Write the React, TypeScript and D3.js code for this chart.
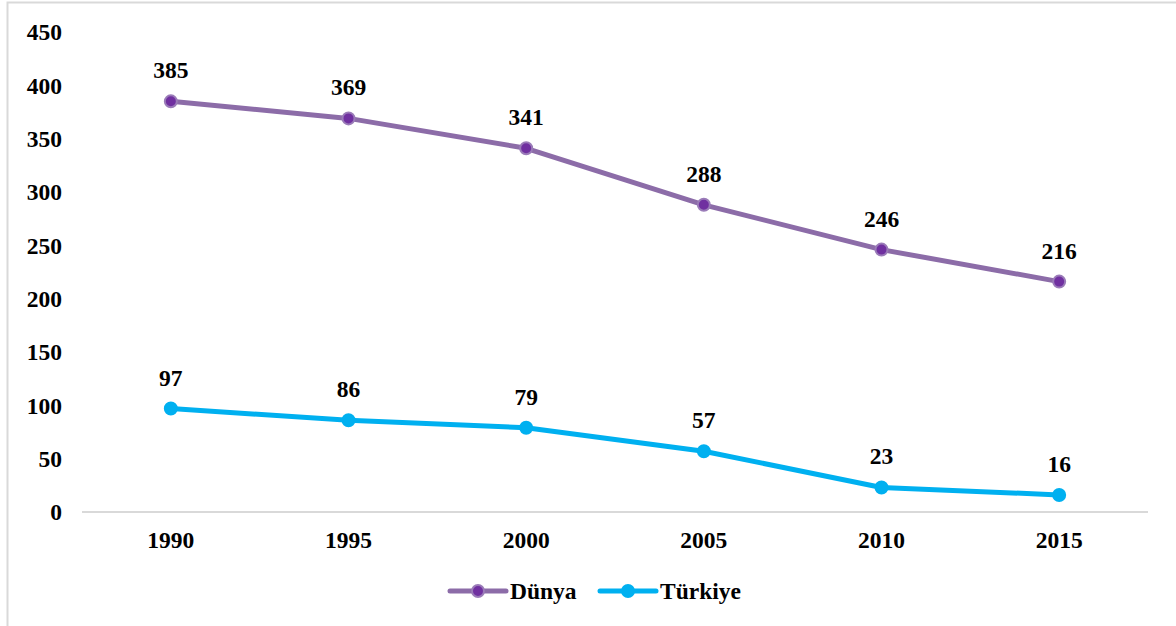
import React from 'react';
import * as d3 from 'd3';

const years = ['1990', '1995', '2000', '2005', '2010', '2015'];
const dunya = [385, 369, 341, 288, 246, 216];
const turkiye = [97, 86, 79, 57, 23, 16];
const yTicks = [0, 50, 100, 150, 200, 250, 300, 350, 400, 450];

const W = 1176;
const H = 626;
const font = '"Liberation Serif", "Times New Roman", serif';
const fs = 23.5;

const series = [
  { name: 'Dünya', values: dunya, line: '#8c6ca8', dot: '#7030a0', dotStroke: '#9a7bb8' },
  { name: 'Türkiye', values: turkiye, line: '#00b0f0', dot: '#00b0f0', dotStroke: '#00b0f0' },
];

export default function App() {
  const xScale = d3.scaleBand().domain(years).range([82, 1148]);
  const yScale = d3.scaleLinear().domain([0, 450]).range([512, 32]);
  const cx = (y: string) => (xScale(y) || 0) + xScale.bandwidth() / 2;

  const line = d3.line<number>()
    .x((d, i) => cx(years[i]))
    .y((d) => yScale(d));

  return (
    <svg width={W} height={H} style={{ position: 'absolute', left: 0, top: 0, background: '#fff' }}>
      <rect x={7.5} y={2.5} width={W + 10} height={H + 10} fill="#fff" stroke="#d9d9d9" strokeWidth={2} />
      <line x1={82} x2={1148} y1={yScale(0)} y2={yScale(0)} stroke="#d9d9d9" strokeWidth={2} />
      {yTicks.map((t) => (
        <text key={t} x={62} y={yScale(t)} dy="0.35em" textAnchor="end"
          fontFamily={font} fontWeight="bold" fontSize={fs} fill="#000">{t}</text>
      ))}
      {years.map((y) => (
        <text key={y} x={cx(y)} y={548} textAnchor="middle"
          fontFamily={font} fontWeight="bold" fontSize={fs} fill="#000">{y}</text>
      ))}
      {series.map((s) => (
        <g key={s.name}>
          <path d={line(s.values) || ''} fill="none" stroke={s.line} strokeWidth={5} strokeLinejoin="round" />
          {s.values.map((v, i) => (
            <circle key={i} cx={cx(years[i])} cy={yScale(v)} r={6} fill={s.dot} stroke={s.dotStroke} strokeWidth={2} />
          ))}
          {s.values.map((v, i) => (
            <text key={'l' + i} x={cx(years[i])} y={yScale(v) - 23} textAnchor="middle"
              fontFamily={font} fontWeight="bold" fontSize={fs} fill="#000">{v}</text>
          ))}
        </g>
      ))}
      {series.map((s, i) => {
        const x0 = i === 0 ? 450 : 600;
        return (
          <g key={'lg' + s.name}>
            <line x1={x0} x2={x0 + 56} y1={591} y2={591} stroke={s.line} strokeWidth={5} strokeLinecap="round" />
            <circle cx={x0 + 28} cy={591} r={6} fill={s.dot} stroke={s.dotStroke} strokeWidth={2} />
            <text x={x0 + 60} y={591} dy="0.35em" fontFamily={font} fontWeight="bold" fontSize={fs} fill="#000">{s.name}</text>
          </g>
        );
      })}
    </svg>
  );
}
